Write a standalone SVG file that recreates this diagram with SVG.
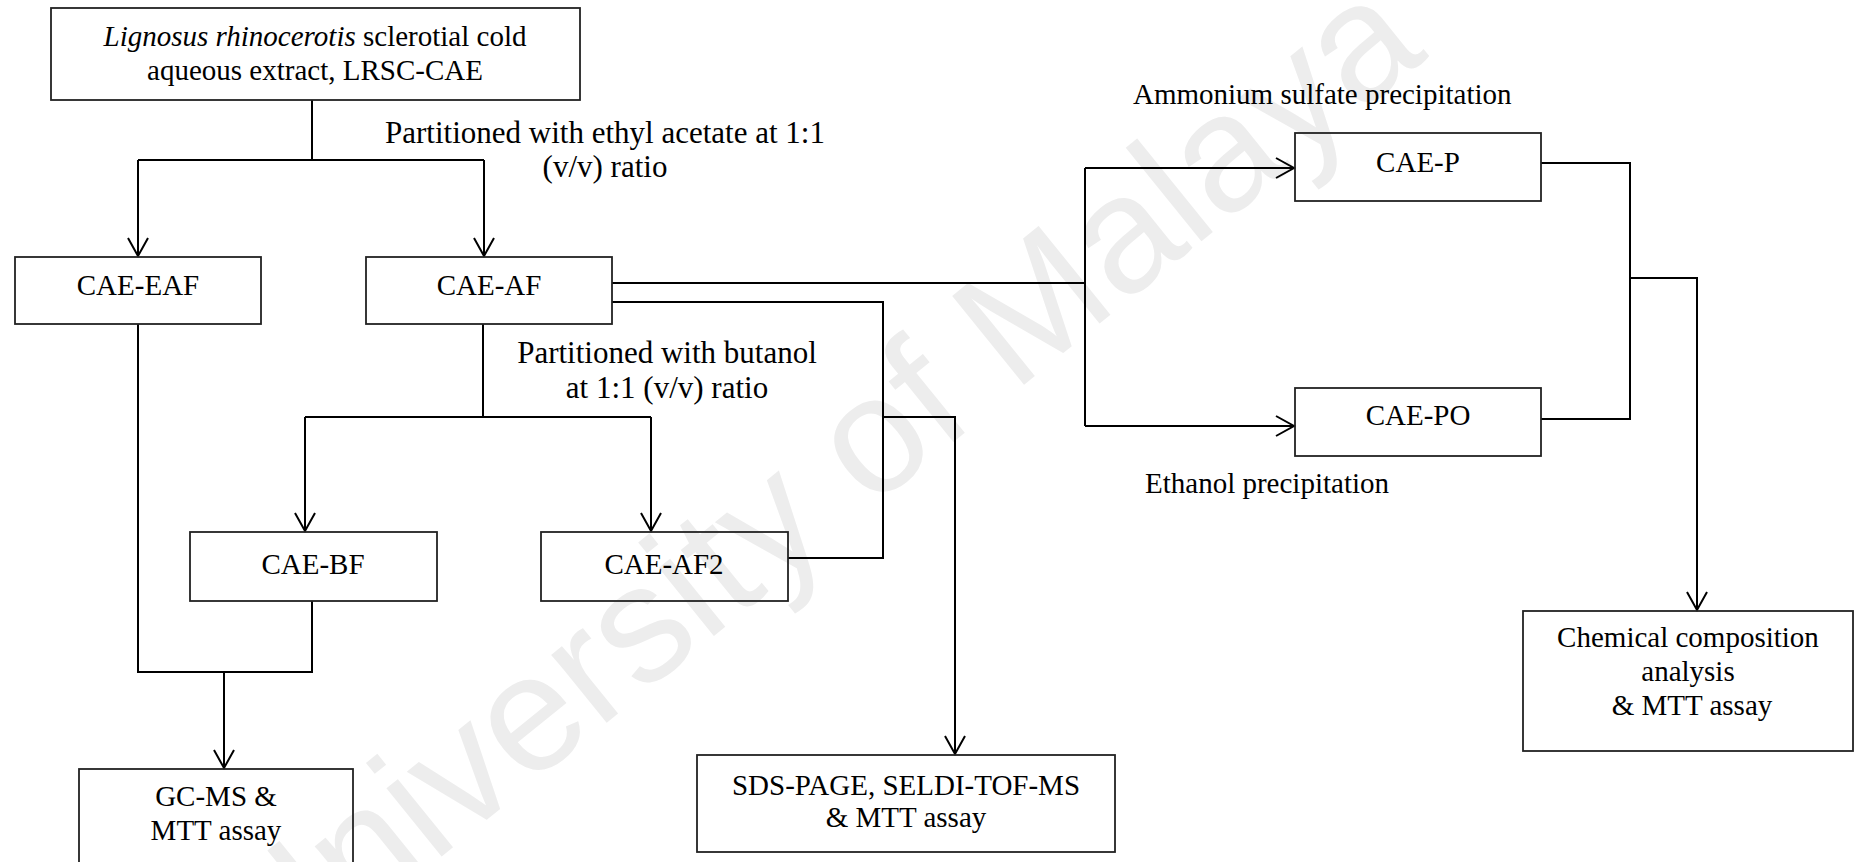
<svg xmlns="http://www.w3.org/2000/svg" width="1855" height="862" viewBox="0 0 1855 862">
  <defs>
    <marker id="arr" markerUnits="userSpaceOnUse" markerWidth="24" markerHeight="26" refX="20" refY="12" orient="auto">
      <path d="M2,2 L20,12 L2,22" fill="none" stroke="#000" stroke-width="2"/>
    </marker>
    <style>
      .box { fill: none; stroke: #222; stroke-width: 1.8; }
      .t { font-family: "Liberation Serif", "Times New Roman", serif; font-size: 29px; fill: #000; text-anchor: middle; }
      .lbl { font-family: "Liberation Serif", "Times New Roman", serif; font-size: 31px; fill: #000; text-anchor: middle; }
      .lbls { font-family: "Liberation Serif", "Times New Roman", serif; font-size: 29px; fill: #000; }
      .ln { fill: none; stroke: #000; stroke-width: 2; }
      .wm { font-family: "Liberation Sans", Arial, sans-serif; font-size: 166px; fill: #ededed; }
    </style>
  </defs>
  <rect x="0" y="0" width="1855" height="862" fill="#fff"/>
  <text class="wm" transform="translate(268,997) rotate(-39)">University of Malaya</text>

  <g id="connectors">
    <polyline class="ln" points="312,100 312,160"/>
    <polyline class="ln" points="138,160 484,160"/>
    <polyline class="ln" points="138,160 138,256" marker-end="url(#arr)"/>
    <polyline class="ln" points="484,160 484,256" marker-end="url(#arr)"/>
    <polyline class="ln" points="612,283 1085,283"/>
    <polyline class="ln" points="1085,168 1085,426"/>
    <polyline class="ln" points="1085,168 1294,168" marker-end="url(#arr)"/>
    <polyline class="ln" points="1085,426 1294,426" marker-end="url(#arr)"/>
    <polyline class="ln" points="1541,163 1630,163 1630,419 1541,419"/>
    <polyline class="ln" points="1630,278 1697,278 1697,610" marker-end="url(#arr)"/>
    <polyline class="ln" points="612,302 883,302 883,558 788,558"/>
    <polyline class="ln" points="883,417 955,417 955,754" marker-end="url(#arr)"/>
    <polyline class="ln" points="483,324 483,417"/>
    <polyline class="ln" points="305,417 651,417"/>
    <polyline class="ln" points="305,417 305,531" marker-end="url(#arr)"/>
    <polyline class="ln" points="651,417 651,531" marker-end="url(#arr)"/>
    <polyline class="ln" points="138,324 138,672 312,672 312,601"/>
    <polyline class="ln" points="224,672 224,768" marker-end="url(#arr)"/>
  </g>

  <g id="labels">
    <text class="lbl" x="605" y="143">Partitioned with ethyl acetate at 1:1</text>
    <text class="lbl" x="605" y="177">(v/v) ratio</text>
    <text class="lbl" x="667" y="363">Partitioned with butanol</text>
    <text class="lbl" x="667" y="398">at 1:1 (v/v) ratio</text>
    <text class="lbls" x="1133" y="104">Ammonium sulfate precipitation</text>
    <text class="lbls" x="1145" y="493">Ethanol precipitation</text>
  </g>

  <g id="node-lrsc">
    <rect class="box" x="51" y="8" width="529" height="92"/>
    <text class="t" x="315" y="46"><tspan font-style="italic">Lignosus rhinocerotis</tspan> sclerotial cold</text>
    <text class="t" x="315" y="80">aqueous extract, LRSC-CAE</text>
  </g>
  <g id="node-eaf">
    <rect class="box" x="15" y="257" width="246" height="67"/>
    <text class="t" x="138" y="295">CAE-EAF</text>
  </g>
  <g id="node-af">
    <rect class="box" x="366" y="257" width="246" height="67"/>
    <text class="t" x="489" y="295">CAE-AF</text>
  </g>
  <g id="node-p">
    <rect class="box" x="1295" y="133" width="246" height="68"/>
    <text class="t" x="1418" y="172">CAE-P</text>
  </g>
  <g id="node-po">
    <rect class="box" x="1295" y="388" width="246" height="68"/>
    <text class="t" x="1418" y="425">CAE-PO</text>
  </g>
  <g id="node-bf">
    <rect class="box" x="190" y="532" width="247" height="69"/>
    <text class="t" x="313" y="574">CAE-BF</text>
  </g>
  <g id="node-af2">
    <rect class="box" x="541" y="532" width="247" height="69"/>
    <text class="t" x="664" y="574">CAE-AF2</text>
  </g>
  <g id="node-gcms">
    <rect class="box" x="79" y="769" width="274" height="130"/>
    <text class="t" x="216" y="806">GC-MS &amp;</text>
    <text class="t" x="216" y="840">MTT assay</text>
  </g>
  <g id="node-sds">
    <rect class="box" x="697" y="755" width="418" height="97"/>
    <text class="t" x="906" y="795">SDS-PAGE, SELDI-TOF-MS</text>
    <text class="t" x="906" y="827">&amp; MTT assay</text>
  </g>
  <g id="node-chem">
    <rect class="box" x="1523" y="611" width="330" height="140"/>
    <text class="t" x="1688" y="647">Chemical composition</text>
    <text class="t" x="1688" y="681">analysis</text>
    <text class="t" x="1692" y="715">&amp; MTT assay</text>
  </g>
</svg>
